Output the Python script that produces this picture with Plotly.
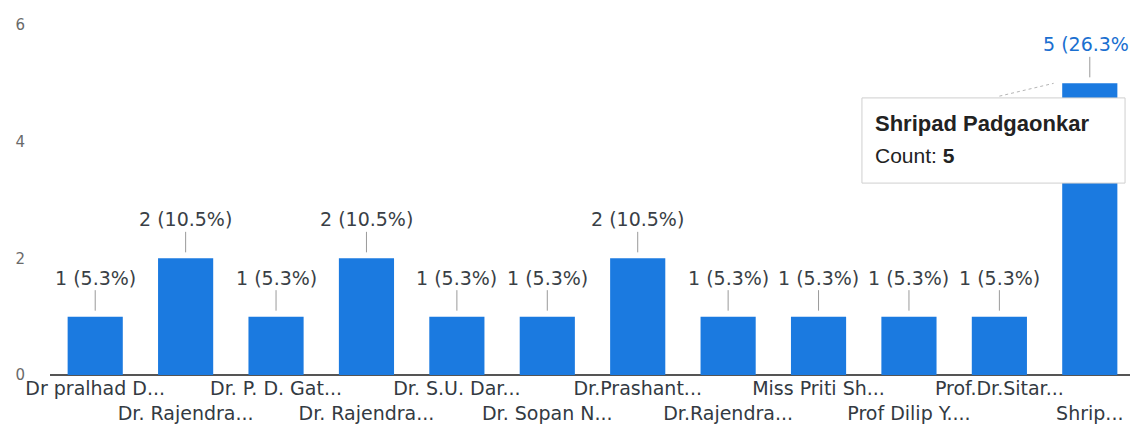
import plotly.graph_objects as go

labels = ["Dr pralhad D...", "Dr. Rajendra...", "Dr. P. D. Gat...", "Dr. Rajendra...",
          "Dr. S.U. Dar...", "Dr. Sopan N...", "Dr.Prashant...", "Dr.Rajendra...",
          "Miss Priti Sh...", "Prof Dilip Y....", "Prof.Dr.Sitar...", "Shrip..."]
counts = [1, 2, 1, 2, 1, 1, 2, 1, 1, 1, 1, 5]
tooltip_name = "Shripad Padgaonkar"
ytick_vals = [0, 2, 4, 6]

total = sum(counts)
xs = list(range(len(counts)))
bar_color = "#1b7ae0"
lab_font = "DejaVu Sans, Liberation Sans, Arial, sans-serif"

fig = go.Figure()
fig.add_trace(go.Bar(x=xs, y=counts, marker=dict(color=bar_color, line=dict(width=0)),
                     width=0.61, hoverinfo="skip"))

# tick text alternating rows
ticktext = [lab if i % 2 == 0 else "<br>" + lab for i, lab in enumerate(labels)]

for i, c in enumerate(counts):
    pct = c / total * 100
    hl = (i == len(counts) - 1)
    fig.add_annotation(x=i, y=c, xref="x", yref="y",
                       text=f"{c} ({pct:.1f}%)",
                       showarrow=True, arrowhead=0, arrowwidth=1, arrowcolor="#9a9a9a",
                       ax=0, ay=-39, standoff=6,
                       font=dict(size=19, color="#1a6fd0" if hl else "#3a3f46", family=lab_font))

# tooltip
last = len(counts) - 1
fig.add_shape(type="line", xref="x", yref="y", x0=10.0, y0=4.78, x1=10.6, y1=counts[last],
              line=dict(color="#b5b5b5", width=1, dash="dot"), layer="above")
fig.add_shape(type="rect", xref="x", yref="y", x0=8.48, x1=11.39, y0=3.29, y1=4.75,
              fillcolor="white", line=dict(color="#cfcfcf", width=1), layer="above")
fig.add_annotation(x=8.6, y=4.32, xref="x", yref="y", xanchor="left", yanchor="middle",
                   text=f"<b>{tooltip_name}</b>", showarrow=False,
                   font=dict(size=22, color="#222222", family="Liberation Sans, Arial, sans-serif"))
fig.add_annotation(x=8.6, y=3.77, xref="x", yref="y", xanchor="left", yanchor="middle",
                   text=f"Count: <b>{counts[last]}</b>", showarrow=False,
                   font=dict(size=21, color="#222222", family="Liberation Sans, Arial, sans-serif"))

fig.update_layout(
    width=1138, height=448,
    margin=dict(l=42, r=11, t=17, b=81),
    plot_bgcolor="white", paper_bgcolor="white",
    showlegend=False,
    font=dict(family=lab_font, size=14, color="#333333"),
)
fig.update_xaxes(range=[-0.5, len(counts) - 0.5], tickvals=xs, ticktext=ticktext,
                 tickangle=0, showgrid=False, zeroline=False, showline=False, ticks="",
                 automargin=False,
                 tickfont=dict(size=19, color="#333a42", family=lab_font))
fig.update_yaxes(range=[0, 6], tickvals=ytick_vals, showgrid=False,
                 zeroline=True, zerolinecolor="#555555", zerolinewidth=1.5,
                 showline=False, ticks="", ticklabelstandoff=24, automargin=False,
                 tickfont=dict(size=15, color="#6a6a6a", family=lab_font))

fig.write_html("out.html")
